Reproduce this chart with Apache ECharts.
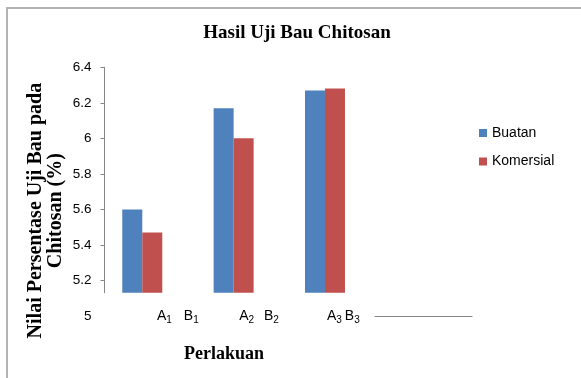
<!DOCTYPE html>
<html>
<head>
<meta charset="utf-8">
<script src="https://cdn.jsdelivr.net/npm/echarts@6/dist/echarts.min.js"></script>
<style>
  html, body { margin: 0; padding: 0; background: #fff; }
  #frame { position: absolute; left: 6px; top: 7px; width: 700px; height: 500px;
           border-left: 2px solid #b4b4b4; border-top: 2px solid #b4b4b4; }
  #chart { position: absolute; left: 0; top: 0; width: 581px; height: 378px; }
</style>
</head>
<body>
<div id="frame"></div>
<div id="chart"></div>
<script>
const categories = ['A1 B1', 'A2 B2', 'A3 B3'];
const buatan = [5.6, 6.17, 6.27];
const komersial = [5.47, 6.0, 6.28];
const yTickValues = [5.2, 5.4, 5.6, 5.8, 6.0, 6.2, 6.4];
const yLabelValues = [5, 5.2, 5.4, 5.6, 5.8, 6.0, 6.2, 6.4];

const SANS = 'Liberation Sans';
const SERIF = 'Liberation Serif';
const AXIS_GRAY = '#868686';

const chart = echarts.init(document.getElementById('chart'));

const leadWidth = [14.7, 5.5, 2];
const gapWidth = [12, 10, 3];
const rich = {
  m: { fontFamily: SANS, fontSize: 14, lineHeight: 20, color: '#000', verticalAlign: 'middle' },
  s: { fontFamily: SANS, fontSize: 10, lineHeight: 10, color: '#000', verticalAlign: 'bottom' }
};
leadWidth.forEach((w, i) => { rich['p' + i] = { width: w, lineHeight: 20 }; });
gapWidth.forEach((w, i) => { rich['g' + i] = { width: w, lineHeight: 20 }; });

const option = {
  animation: false,
  title: [
    { text: 'Hasil Uji Bau Chitosan', left: 297, top: 24, padding: 0, textAlign: 'center',
      textStyle: { fontFamily: SERIF, fontWeight: 'bold', fontSize: 19, color: '#000' } },
    { text: 'Perlakuan', left: 224, top: 345, padding: 0, textAlign: 'center',
      textStyle: { fontFamily: SERIF, fontWeight: 'bold', fontSize: 18, color: '#000' } }
  ],
  legend: {
    data: ['Buatan', 'Komersial'],
    orient: 'vertical', left: 479, top: 126, padding: 0,
    itemWidth: 8, itemHeight: 8, itemGap: 14.5, icon: 'rect',
    textStyle: { fontFamily: SANS, fontSize: 14, color: '#000' }
  },
  grid: [
    { left: 96.6, width: 274.05, top: 67.3, height: 225.4 },   // bars
    { left: 104.5, width: 266, top: 67.3, height: 225.4 },     // axis line + ticks
    { left: 104.5, width: 266, top: 67.3, height: 248.7 },     // labels incl. 5
    { left: 375, width: 97, top: 300, height: 16 }             // stray base line
  ],
  xAxis: [
    { gridIndex: 0, type: 'category', data: categories,
      axisLine: { show: false }, axisTick: { show: false },
      axisLabel: {
        interval: 0, margin: 13, align: 'left',
        formatter: (v, i) => {
          const [a, b] = v.split(' ');
          return `{p${i}| }{m|${a[0]}}{s|${a.slice(1)}}{g${i}| }{m|${b[0]}}{s|${b.slice(1)}}`;
        },
        rich: rich
      } },
    { gridIndex: 1, type: 'value', min: 0, max: 1, show: false },
    { gridIndex: 2, type: 'value', min: 0, max: 1, show: false },
    { gridIndex: 3, type: 'value', min: 0, max: 1,
      axisLine: { show: true, lineStyle: { color: AXIS_GRAY, width: 1 } },
      axisTick: { show: false }, axisLabel: { show: false }, splitLine: { show: false } }
  ],
  yAxis: [
    { gridIndex: 0, type: 'value', min: 5.131, max: 6.4, show: false },
    { gridIndex: 1, type: 'value', min: 5.131, max: 6.4,
      axisLine: { show: true, lineStyle: { color: AXIS_GRAY } },
      axisTick: { show: true, customValues: yTickValues, length: 4, lineStyle: { color: AXIS_GRAY } },
      axisLabel: { show: false }, splitLine: { show: false } },
    { gridIndex: 2, type: 'value', min: 5, max: 6.4,
      axisLine: { show: false }, axisTick: { show: false }, splitLine: { show: false },
      axisLabel: { customValues: yLabelValues, margin: 13, fontFamily: SANS, fontSize: 13.5, color: '#000' },
      name: 'Nilai Persentase Uji Bau pada\nChitosan (%)',
      nameLocation: 'middle', nameGap: 39,
      nameTextStyle: { fontFamily: SERIF, fontWeight: 'bold', fontSize: 20, lineHeight: 20,
                       color: '#000', align: 'center', padding: [0, 38, 0, 0] } },
    { gridIndex: 3, type: 'value', min: 0, max: 1, show: false }
  ],
  series: [
    { name: 'Buatan', type: 'bar', xAxisIndex: 0, yAxisIndex: 0, data: buatan,
      barWidth: 20, barGap: '0%', itemStyle: { color: '#4F81BD' } },
    { name: 'Komersial', type: 'bar', xAxisIndex: 0, yAxisIndex: 0, data: komersial,
      barWidth: 20, barGap: '0%', itemStyle: { color: '#C0504D' } }
  ]
};
chart.setOption(option);
</script>
</body>
</html>
